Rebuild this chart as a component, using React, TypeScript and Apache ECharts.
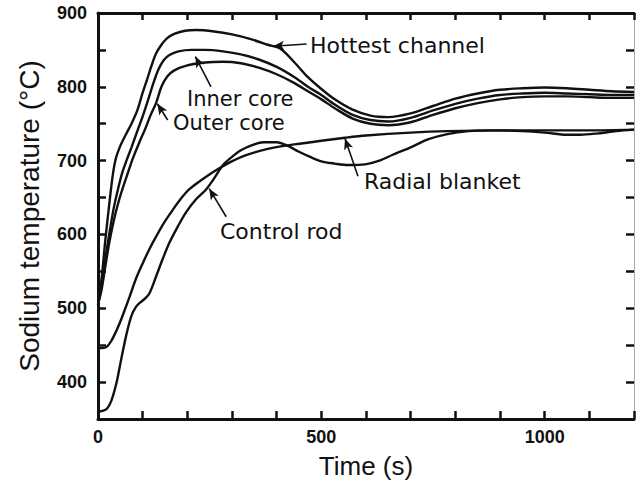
import React, { useEffect, useRef } from "react";
import * as echarts from "echarts";

// ---- Data (time in s, sodium temperature in °C) ----
const hottestT = [0, 8, 16, 25, 33, 40, 50, 62, 75, 88, 100, 110, 120, 130, 142, 155, 172, 195, 220, 260, 300, 340, 380, 410, 440, 470, 500, 530, 570, 610, 650, 700, 750, 800, 850, 900, 950, 1000, 1050, 1100, 1150, 1200];
const hottestV = [505, 540, 590, 640, 680, 703, 720, 735, 750, 768, 792, 810, 829, 845, 857, 866, 872, 876, 877, 875, 871, 865, 857, 851, 833, 813, 797, 783, 769, 761, 759, 764, 774, 784, 791, 796, 798, 799, 798, 796, 794, 793];

const innerT = [0, 8, 16, 25, 35, 45, 55, 65, 75, 88, 100, 112, 124, 135, 147, 160, 180, 210, 240, 280, 320, 360, 400, 440, 470, 500, 530, 570, 610, 650, 700, 750, 800, 850, 900, 950, 1000, 1050, 1100, 1150, 1200];
const innerV = [505, 530, 565, 600, 635, 662, 685, 702, 718, 740, 760, 782, 805, 823, 836, 843, 848, 850, 850, 848, 844, 837, 827, 813, 800, 789, 776, 762, 755, 753, 758, 768, 777, 784, 789, 791, 792, 791, 790, 789, 789];

const outerT = [0, 8, 16, 25, 35, 45, 55, 65, 78, 92, 105, 118, 130, 142, 155, 170, 200, 240, 280, 320, 360, 400, 440, 470, 500, 530, 570, 610, 650, 700, 750, 800, 850, 900, 950, 1000, 1050, 1100, 1150, 1200];
const outerV = [505, 525, 555, 588, 618, 642, 662, 680, 703, 724, 742, 762, 778, 800, 814, 822, 829, 833, 834, 832, 826, 817, 805, 794, 783, 771, 757, 750, 748, 752, 762, 771, 778, 783, 786, 787, 787, 786, 785, 785];

const radialT = [0, 10, 20, 30, 40, 50, 60, 71, 85, 101, 115, 130, 148, 167, 185, 204, 230, 256, 290, 330, 380, 440, 500, 553, 600, 700, 782, 900, 1000, 1100, 1200];
const radialV = [446, 446, 448, 456, 468, 482, 498, 516, 540, 562, 580, 597, 616, 633, 648, 661, 673, 684, 696, 707, 716, 722, 727, 731, 734, 738, 740, 741, 741, 741, 742];

const controlT = [0, 10, 20, 30, 41, 50, 56, 65, 75, 85, 95, 105, 115, 130, 145, 160, 178, 197, 220, 242, 260, 280, 300, 320, 345, 370, 400, 425, 450, 475, 500, 530, 560, 598, 630, 660, 700, 740, 782, 830, 880, 950, 1000, 1050, 1080, 1120, 1160, 1200];
const controlV = [360, 361, 364, 375, 398, 425, 443, 468, 490, 502, 508, 513, 520, 543, 567, 589, 610, 630, 648, 661, 676, 694, 705, 714, 721, 725, 725, 720, 712, 705, 699, 696, 694, 695, 700, 708, 718, 729, 736, 740, 741, 740, 738, 735, 735, 737, 740, 742];

const yTicks = [400, 500, 600, 700, 800, 900];
const xTicks = [0, 500, 1000];

// ---- Annotations: [tailT, tailV, tipT, tipV] ----
const arrowHottest = [467, 858, 392, 855];
const arrowInner = [253, 800, 218, 841];
const arrowOuter = [156, 755, 133, 777];
const arrowControl = [287, 624, 249, 662];
const arrowRadial = [582, 679, 553, 730];

const zip = (t: number[], v: number[]) => t.map((x, i) => [x, v[i]]);

const INK = "#111";

function arrow(a: number[]) {
  return {
    silent: true,
    symbol: ["none", "arrow"],
    symbolSize: [7, 11],
    label: { show: false },
    emphasis: { disabled: true },
    lineStyle: { color: INK, width: 1.6, type: "solid" },
    data: [[{ coord: [a[0], a[1]] }, { coord: [a[2], a[3]] }]],
  };
}

function lineSeries(name: string, t: number[], v: number[], a: number[]) {
  return {
    name,
    type: "line",
    data: zip(t, v),
    showSymbol: false,
    smooth: 0.3,
    xAxisIndex: 0,
    yAxisIndex: 0,
    lineStyle: { color: INK, width: 2.4 },
    emphasis: { disabled: true },
    markLine: arrow(a),
  };
}

const annoFont = '21px "DejaVu Sans", sans-serif';

export default function App() {
  const ref = useRef<HTMLDivElement>(null);
  useEffect(() => {
    if (!ref.current) return;
    const chart = echarts.init(ref.current, null, { renderer: "svg" });
    const tickLabel = {
      fontFamily: '"Liberation Sans", Arial, sans-serif',
      fontWeight: "bold",
      fontSize: 18,
      color: INK,
    };
    chart.setOption({
      animation: false,
      backgroundColor: "#fff",
      grid: { left: 98, right: 1, top: 13, bottom: 65, containLabel: false },
      xAxis: [
        {
          type: "value",
          position: "bottom",
          min: 0,
          max: 1200,
          interval: 100,
          name: "Time (s)",
          nameLocation: "middle",
          nameGap: 34,
          nameTextStyle: { fontFamily: '"Liberation Sans", Arial, sans-serif', fontSize: 26, color: INK },
          axisLine: { show: true, onZero: false, lineStyle: { color: INK, width: 3 } },
          axisTick: { show: true, inside: true, length: 8, lineStyle: { color: INK, width: 2.5 } },
          axisLabel: {
            ...tickLabel,
            margin: 9,
            formatter: (v: number) => (xTicks.includes(v) ? String(v) : ""),
          },
          splitLine: { show: false },
        },
        {
          type: "value",
          position: "top",
          min: 0,
          max: 1200,
          interval: 100,
          axisLine: { show: true, onZero: false, lineStyle: { color: INK, width: 3 } },
          axisTick: { show: true, inside: true, length: 7, lineStyle: { color: INK, width: 2.5 } },
          axisLabel: { show: false },
          splitLine: { show: false },
        },
      ],
      yAxis: [
        {
          type: "value",
          position: "left",
          min: 350,
          max: 900,
          interval: 50,
          name: "Sodium temperature (°C)",
          nameLocation: "middle",
          nameGap: 55,
          nameTextStyle: { fontFamily: '"Liberation Sans", Arial, sans-serif', fontSize: 28, color: INK },
          axisLine: { show: true, onZero: false, lineStyle: { color: INK, width: 3 } },
          axisTick: { show: true, inside: true, length: 8, lineStyle: { color: INK, width: 2.5 } },
          axisLabel: {
            ...tickLabel,
            margin: 11,
            formatter: (v: number) => (yTicks.includes(v) ? String(v) : ""),
          },
          splitLine: { show: false },
        },
        {
          type: "value",
          position: "right",
          min: 350,
          max: 900,
          interval: 50,
          axisLine: { show: true, onZero: false, lineStyle: { color: "#aaa", width: 1 } },
          axisTick: { show: true, inside: true, length: 8, lineStyle: { color: INK, width: 2.5 } },
          axisLabel: { show: false },
          splitLine: { show: false },
        },
      ],
      series: [
        lineSeries("Hottest channel", hottestT, hottestV, arrowHottest),
        lineSeries("Inner core", innerT, innerV, arrowInner),
        lineSeries("Outer core", outerT, outerV, arrowOuter),
        lineSeries("Radial blanket", radialT, radialV, arrowRadial),
        lineSeries("Control rod", controlT, controlV, arrowControl),
      ],
      graphic: [
        { type: "text", x: 310, y: 45, style: { text: "Hottest channel", font: '22px "DejaVu Sans", sans-serif', fill: INK, verticalAlign: "middle" } },
        { type: "text", x: 187, y: 99, style: { text: "Inner core", font: annoFont, fill: INK, verticalAlign: "middle" } },
        { type: "text", x: 173, y: 123, style: { text: "Outer core", font: annoFont, fill: INK, verticalAlign: "middle" } },
        { type: "text", x: 220, y: 231, style: { text: "Control rod", font: '22px "DejaVu Sans", sans-serif', fill: INK, verticalAlign: "middle" } },
        { type: "text", x: 364, y: 181, style: { text: "Radial blanket", font: '22px "DejaVu Sans", sans-serif', fill: INK, verticalAlign: "middle" } },
      ],
    });
    return () => chart.dispose();
  }, []);
  return (
    <div
      ref={ref}
      style={{ position: "fixed", left: 0, top: 0, width: 637, height: 484, background: "#fff" }}
    />
  );
}
